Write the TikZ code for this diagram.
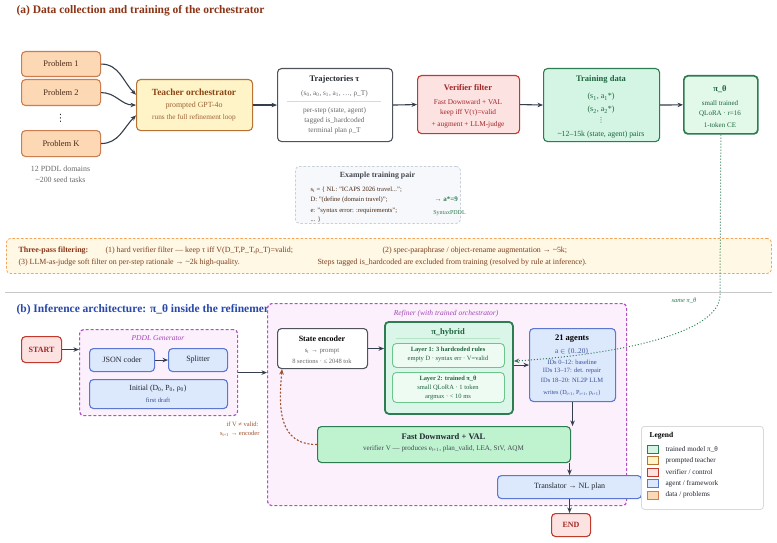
\documentclass[tikz,border=0pt]{standalone}
\usepackage{fontspec}
\setmainfont{Liberation Serif}
\newfontfamily\symfont{DejaVu Sans}
\usetikzlibrary{arrows.meta}

% colours
\definecolor{ttlA}{RGB}{139,52,22}
\definecolor{ttlB}{RGB}{40,72,168}
\definecolor{arr}{RGB}{52,62,76}
\definecolor{probfill}{RGB}{253,216,180}
\definecolor{probline}{RGB}{205,125,80}
\definecolor{probtext}{RGB}{72,42,22}
\definecolor{teachfill}{RGB}{255,244,200}
\definecolor{teachline}{RGB}{184,115,51}
\definecolor{teachtext}{RGB}{139,69,19}
\definecolor{verfill}{RGB}{253,226,226}
\definecolor{verline}{RGB}{192,57,43}
\definecolor{vertext}{RGB}{160,38,38}
\definecolor{datafill}{RGB}{212,245,228}
\definecolor{dataline}{RGB}{46,125,82}
\definecolor{datatext}{RGB}{30,100,62}
\definecolor{thetafill}{RGB}{226,249,234}
\definecolor{agfill}{RGB}{220,232,252}
\definecolor{agline}{RGB}{90,120,210}
\definecolor{agtext}{RGB}{60,80,150}
\definecolor{fdfill}{RGB}{191,243,208}
\definecolor{layfill}{RGB}{238,251,242}
\definecolor{layline}{RGB}{108,197,138}
\definecolor{reffill}{RGB}{253,240,253}
\definecolor{refline}{RGB}{176,80,196}
\definecolor{reftext}{RGB}{160,70,180}
\definecolor{passfill}{RGB}{255,248,229}
\definecolor{passline}{RGB}{245,165,90}
\definecolor{passtext}{RGB}{125,62,30}
\definecolor{exfill}{RGB}{246,248,251}
\definecolor{exline}{RGB}{200,208,220}
\definecolor{fbtext}{RGB}{160,82,45}
\definecolor{softgray}{RGB}{105,105,105}
\definecolor{darktext}{RGB}{35,40,50}

\tikzset{
  box/.style={draw, rounded corners=4pt, line width=1.1pt, anchor=north west, inner sep=0pt},
  probbox/.style={box, fill=probfill, draw=probline, text=probtext, font=\fontsize{8.5}{10}\selectfont},
  teachbox/.style={box, fill=teachfill, draw=teachline},
  plainbox/.style={box, fill=white, draw=darktext!80},
  verbox/.style={box, fill=verfill, draw=verline},
  databox/.style={box, fill=datafill, draw=dataline},
  agbox/.style={box, fill=agfill, draw=agline, text=darktext, font=\fontsize{8}{10}\selectfont},
  termbox/.style={box, fill=verfill, draw=verline, text=vertext, font=\fontsize{8}{10}\selectfont\bfseries},
  dashbox/.style={box, dash pattern=on 3pt off 2pt, line width=1.2pt, fill=reffill, draw=refline},
  notebox/.style={box, dash pattern=on 2.5pt off 1.8pt, line width=0.8pt},
  swatch/.style={draw, line width=0.9pt, minimum width=11pt, minimum height=8pt, inner sep=0pt},
  ttl/.style={font=\fontsize{8.5}{10}\selectfont\bfseries},
  txt/.style={font=\fontsize{7.3}{9}\selectfont},
  sml/.style={font=\fontsize{6.5}{8}\selectfont},
  flow/.style={->, draw=arr, line width=1.1pt},
}

\begin{document}
\begin{tikzpicture}[x=1pt,y=1pt,>={Stealth[length=5.5pt,width=4.5pt]}]
    \path[use as bounding box, fill=white] (0,0) rectangle (777,-543);

    % (a) training
    \node[anchor=west, text=ttlA, font=\fontsize{11.5}{13}\selectfont\bfseries] (ttla) at (13,-11) {(a) Data collection and training of the orchestrator};

    \node[probbox, minimum width=79pt, minimum height=25pt] (p1) at (21,-51) {Problem 1};
    \node[probbox, minimum width=79pt, minimum height=26pt] (p2) at (21,-79) {Problem 2};
    \node[text=darktext, font=\symfont\fontsize{10}{12}\selectfont] (pdots) at (60.5,-118) {⋮};
    \node[probbox, minimum width=79pt, minimum height=26pt] (pk) at (21,-130) {Problem K};
    \node[font=\fontsize{7.9}{9}\selectfont, text=softgray] (dom) at (60.5,-169) {12 PDDL domains};
    \node[font=\fontsize{7.9}{9}\selectfont, text=softgray] (seed) at (60.5,-180) {\textasciitilde200 seed tasks};

    \node[teachbox, minimum width=116pt, minimum height=51pt] (teach) at (136,-79) {};
    \node[font=\fontsize{9.4}{11}\selectfont\bfseries, text=teachtext] (teach-t) at (194,-92) {Teacher orchestrator};
    \node[font=\fontsize{7.9}{9}\selectfont, text=teachtext!85] (teach-a) at (194,-106) {prompted GPT-4o};
    \node[font=\fontsize{7.3}{8}\selectfont, text=teachtext!85] (teach-b) at (194,-118) {runs the full refinement loop};

    \draw[flow] (p1.east) to[out=0,in=135] (teach.170);
    \draw[flow] (p2.east) to[out=0,in=180] (teach.west);
    \draw[flow] (pk.east) to[out=0,in=225] (teach.190);

    \node[plainbox, minimum width=115pt, minimum height=73pt] (traj) at (277,-68) {};
    \node[ttl, text=darktext] (traj-t) at (334.5,-79) {Trajectories τ};
    \node[txt, text=softgray] (traj-a) at (334.5,-94) {(s\textsubscript{0}, a\textsubscript{0}, s\textsubscript{1}, a\textsubscript{1}, …, ρ\_T)};
    \draw[black!15, line width=0.8pt] (287,-101) -- (381,-101);
    \node[txt, text=softgray] (traj-b) at (334.5,-111) {per-step (state, agent)};
    \node[txt, text=softgray] (traj-c) at (334.5,-121) {tagged is\_hardcoded};
    \node[txt, text=softgray] (traj-d) at (334.5,-131) {terminal plan ρ\_T};

    \node[verbox, minimum width=102pt, minimum height=58pt] (ver) at (417,-75) {};
    \node[ttl, text=vertext] (ver-t) at (468,-88) {Verifier filter};
    \node[txt, text=vertext] (ver-a) at (468,-102) {Fast Downward + VAL};
    \node[txt, text=vertext] (ver-b) at (468,-113) {keep iff V(τ)=valid};
    \node[txt, text=vertext] (ver-c) at (468,-125) {+ augment + LLM-judge};

    \node[databox, minimum width=116pt, minimum height=73pt] (train) at (543,-68) {};
    \node[ttl, text=datatext] (train-t) at (601,-79) {Training data};
    \node[font=\fontsize{8}{10}\selectfont, text=datatext] (train-a) at (601,-97) {(s\textsubscript{1}, a\textsubscript{1}*)};
    \node[font=\fontsize{8}{10}\selectfont, text=datatext] (train-b) at (601,-110) {(s\textsubscript{2}, a\textsubscript{2}*)};
    \node[font=\symfont\fontsize{7}{8}\selectfont, text=datatext] (train-c) at (601,-120) {⋮};
    \node[font=\fontsize{7.8}{9}\selectfont, text=datatext] (train-d) at (601,-135) {\textasciitilde12–15k (state, agent) pairs};

    \node[databox, fill=thetafill, line width=1.7pt, minimum width=74pt, minimum height=58pt] (pth) at (683,-75) {};
    \node[ttl, text=datatext] (pth-t) at (720,-89) {π\_θ};
    \node[font=\fontsize{7}{8}\selectfont, text=datatext] (pth-a) at (720,-103) {small trained};
    \node[font=\fontsize{7}{8}\selectfont, text=datatext] (pth-b) at (720,-114) {QLoRA · r=16};
    \node[font=\fontsize{7}{8}\selectfont, text=datatext] (pth-c) at (720,-125) {1-token CE};

    \draw[flow] (teach.east) -- (traj.west);
    \draw[flow] (traj.east) -- (ver.west);
    \draw[flow] (ver.east) -- (train.west);
    \draw[flow] (train.east) -- (pth.west);

    % example pair
    \node[notebox, fill=exfill, draw=exline, minimum width=165pt, minimum height=57pt] (ex) at (295,-166) {};
    \node[font=\fontsize{7.9}{9}\selectfont\bfseries, text=darktext!85] (ex-t) at (377.5,-176) {Example training pair};
    \node[font=\fontsize{6.6}{7}\selectfont, anchor=west, text=probtext] (ex-a) at (307,-190) {s\textsubscript{t} = \{ NL: "ICAPS 2026 travel...";};
    \node[font=\fontsize{6.6}{7}\selectfont, anchor=west, text=probtext] (ex-b) at (307,-200) {D: "(define (domain travel)";};
    \node[font=\fontsize{6.6}{7}\selectfont, anchor=west, text=probtext] (ex-c) at (307,-211) {e: "syntax error: :requirements";};
    \node[font=\fontsize{6.6}{7}\selectfont, anchor=west, text=probtext] (ex-d) at (307,-220) {... \}};
    \node[font=\fontsize{7}{8}\selectfont\bfseries, anchor=west, text=dataline] (ex-e) at (431,-199) {→ a*=9};
    \node[font=\fontsize{6}{7}\selectfont, text=dataline] (ex-f) at (449.5,-213) {SyntaxPDDL};

    % three-pass filtering
    \node[notebox, fill=passfill, draw=passline, minimum width=765pt, minimum height=35pt] (pass) at (6,-238) {};
    \node[font=\fontsize{8}{9}\selectfont\bfseries, anchor=west, text=ttlA] (pass-t) at (15,-251) {Three-pass filtering:};
    \node[font=\fontsize{7.9}{9}\selectfont, anchor=west, text=passtext] (pass-a) at (102,-251) {(1) hard verifier filter — keep τ iff V(D\_T,P\_T,ρ\_T)=valid;};
    \node[font=\fontsize{7.9}{9}\selectfont, anchor=west, text=passtext] (pass-b) at (379,-251) {(2) spec-paraphrase / object-rename augmentation → \textasciitilde5k;};
    \node[font=\fontsize{7.9}{9}\selectfont, anchor=west, text=passtext] (pass-c) at (15,-263) {(3) LLM-as-judge soft filter on per-step rationale → \textasciitilde2k high-quality.};
    \node[font=\fontsize{7.9}{9}\selectfont, anchor=west, text=passtext] (pass-d) at (314,-263) {Steps tagged is\_hardcoded are excluded from training (resolved by rule at inference).};

    \draw[black!22, line width=0.8pt] (5,-292) -- (772,-292);

    % (b) inference
    \node[anchor=west, text=ttlB, font=\fontsize{11.5}{13}\selectfont\bfseries] (ttlb) at (13,-310) {(b) Inference architecture: π\_θ inside the refinement loop};

    \node[termbox, minimum width=40pt, minimum height=26pt] (start) at (21,-336) {START};

    \node[dashbox, minimum width=158pt, minimum height=86pt] (gen) at (79,-329) {};
    \node[font=\fontsize{7.5}{9}\selectfont\itshape, text=reftext] (gen-t) at (158,-338) {PDDL Generator};
    \node[agbox, minimum width=65pt, minimum height=23pt] (json) at (89,-348) {JSON coder};
    \node[agbox, minimum width=59pt, minimum height=23pt] (split) at (168,-348) {Splitter};
    \node[agbox, minimum width=138pt, minimum height=29pt] (init) at (89,-379) {};
    \node[font=\fontsize{7.8}{9}\selectfont, text=darktext] (init-t) at (158,-389) {Initial (D\textsubscript{0}, P\textsubscript{0}, ρ\textsubscript{0})};
    \node[sml, text=agtext] (init-a) at (158,-400) {first draft};

    \node[dashbox, minimum width=359pt, minimum height=202pt] (ref) at (267,-303) {};
    \node[font=\fontsize{7.5}{9}\selectfont\itshape, text=reftext] (ref-t) at (446,-314) {Refiner (with trained orchestrator)};

    \node[plainbox, minimum width=90pt, minimum height=40pt] (se) at (277,-328) {};
    \node[font=\fontsize{8}{10}\selectfont\bfseries, text=black] (se-t) at (322,-339) {State encoder};
    \node[font=\fontsize{6.8}{8}\selectfont, text=softgray] (se-a) at (322,-351) {s\textsubscript{t} → prompt};
    \node[sml, text=softgray] (se-b) at (322,-361) {8 sections · ≤ 2048 tok};

    \node[databox, fill=datafill!85, line width=1.8pt, minimum width=128pt, minimum height=92pt] (hyb) at (384,-321) {};
    \node[ttl, text=datatext] (hyb-t) at (448,-332) {π\_hybrid};
    \draw[layline!50, line width=0.8pt] (396,-338) -- (500,-338);
    \node[box, line width=0.9pt, fill=layfill, draw=layline, minimum width=112pt, minimum height=24pt] (lay1) at (392,-343) {};
    \node[font=\fontsize{6.4}{8}\selectfont\bfseries, text=datatext] (lay1-t) at (448,-350) {Layer 1: 3 hardcoded rules};
    \node[sml, text=datatext] (lay1-a) at (448,-359) {empty D · syntax err · V=valid};
    \node[box, line width=0.9pt, fill=layfill, draw=layline, minimum width=112pt, minimum height=30pt] (lay2) at (392,-372) {};
    \node[font=\fontsize{6.4}{8}\selectfont\bfseries, text=datatext] (lay2-t) at (448,-379) {Layer 2: trained π\_θ};
    \node[sml, text=datatext] (lay2-a) at (448,-388) {small QLoRA · 1 token};
    \node[sml, text=datatext] (lay2-b) at (448,-397) {argmax · < 10 ms};

    \node[agbox, minimum width=86pt, minimum height=73pt] (ag) at (529,-328) {};
    \node[ttl, text=black] (ag-t) at (572,-339) {21 agents};
    \node[txt, text=agtext] (ag-a) at (572,-351) {a $\in$ \{0..20\}};
    \node[sml, text=agtext] (ag-b) at (572,-362) {IDs 0–12: baseline};
    \node[sml, text=agtext] (ag-c) at (572,-371) {IDs 13–17: det. repair};
    \node[sml, text=agtext] (ag-d) at (572,-380) {IDs 18–20: NL2P LLM};
    \node[font=\fontsize{6.2}{7}\selectfont, text=agtext] (ag-e) at (572,-393) {writes (D\textsubscript{t+1}, P\textsubscript{t+1}, ρ\textsubscript{t+1})};

    \node[databox, fill=fdfill, minimum width=253pt, minimum height=36pt] (fd) at (317,-426) {};
    \node[ttl, text=darktext] (fd-t) at (443.5,-437) {Fast Downward + VAL};
    \node[font=\fontsize{7.1}{9}\selectfont, text=darktext!85] (fd-a) at (443.5,-449) {verifier V — produces e\textsubscript{t+1}, plan\_valid, LEA, StV, AQM};

    \node[agbox, minimum width=144pt, minimum height=23pt] (tr) at (497,-475) {Translator → NL plan};
    \node[termbox, minimum width=39pt, minimum height=23pt] (end) at (551,-513) {END};

    \draw[flow] (start.east) -- (start.east -| gen.west);
    \draw[flow] (json.east) -- (split.west);
    \draw[flow] (gen.east) -- (gen.east -| ref.west);
    \draw[flow] (se.east) -- (se.east -| hyb.west);
    \draw[flow] (ag.west -| hyb.east) -- (ag.west);
    \draw[flow] (ag.south) -- (ag.south |- fd.north);
    \draw[flow] (tr.north |- fd.south) -- (tr.north);
    \draw[flow] (tr.south) -- (tr.south |- end.north);

    % feedback loop
    \coordinate (fbin) at ([xshift=5pt]se.south west);
    \draw[->, draw=fbtext, line width=1.1pt, dash pattern=on 2pt off 1.8pt] (fd.west) to[out=180,in=-95,looseness=1.2] (fbin);
    \node[sml, anchor=east, text=fbtext] (fb-a) at (262,-424) {if V ≠ valid:};
    \node[sml, anchor=east, text=fbtext] (fb-b) at (263,-434) {s\textsubscript{t+1} → encoder};

    % shared weights
    \coordinate (bend) at (720,-295);
    \draw[->, draw=dataline, line width=1pt, dotted] (pth.south) -- (bend) .. controls (720,-335) and (610,-355) .. (hyb.6);
    \node[font=\fontsize{6.5}{8}\selectfont\itshape, text=dataline] (same) at (684,-301) {same π\_θ};

    % legend
    \node[box, rounded corners=3pt, line width=0.8pt, fill=white, draw=black!15, minimum width=122pt, minimum height=83pt] (leg) at (641,-426) {};
    \node[font=\fontsize{7.5}{9}\selectfont\bfseries, anchor=west] (leg-t) at (646,-436) {Legend};
    \node[swatch, fill=datafill, draw=dataline] (sw1) at (652.5,-449) {};
    \node[swatch, fill=teachfill, draw=teachline] (sw2) at (652.5,-460.5) {};
    \node[swatch, fill=verfill, draw=verline] (sw3) at (652.5,-472) {};
    \node[swatch, fill=agfill, draw=agline] (sw4) at (652.5,-483.5) {};
    \node[swatch, fill=probfill, draw=probline] (sw5) at (652.5,-495) {};
    \node[font=\fontsize{7.2}{8}\selectfont, anchor=west, text=darktext] (lg1) at (662,-449) {trained model π\_θ};
    \node[font=\fontsize{7.2}{8}\selectfont, anchor=west, text=darktext] (lg2) at (662,-460.5) {prompted teacher};
    \node[font=\fontsize{7.2}{8}\selectfont, anchor=west, text=darktext] (lg3) at (662,-472) {verifier / control};
    \node[font=\fontsize{7.2}{8}\selectfont, anchor=west, text=darktext] (lg4) at (662,-483.5) {agent / framework};
    \node[font=\fontsize{7.2}{8}\selectfont, anchor=west, text=darktext] (lg5) at (662,-495) {data / problems};
\end{tikzpicture}
\end{document}
